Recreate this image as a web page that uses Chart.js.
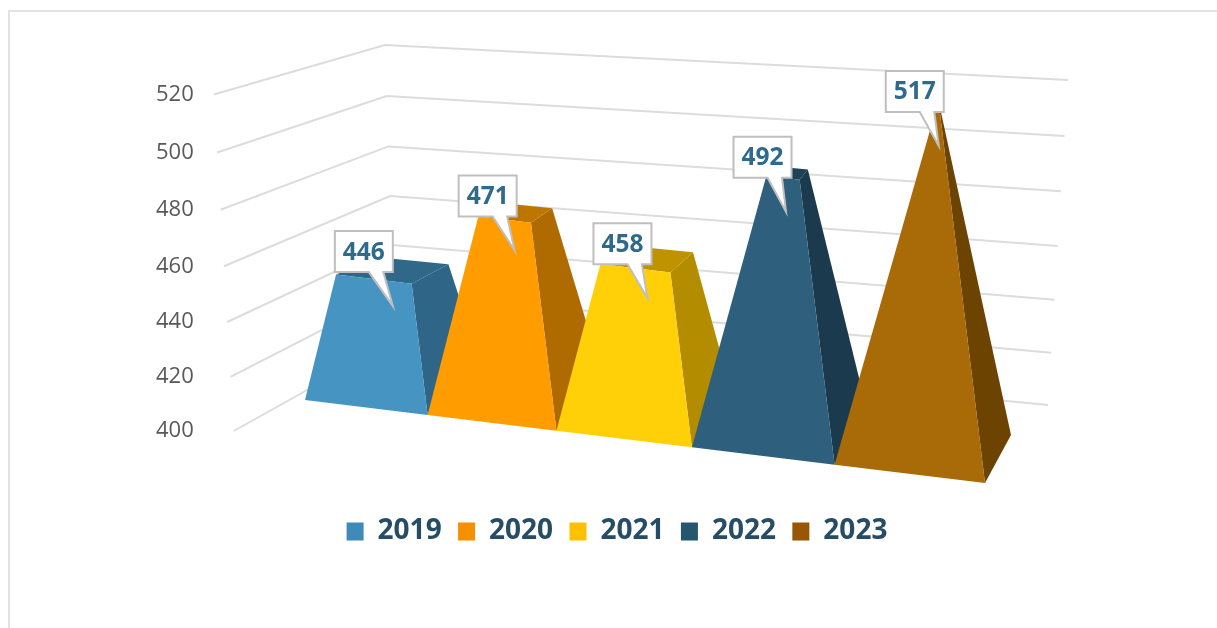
<!DOCTYPE html>
<html>
<head>
<meta charset="utf-8">
<script src="https://cdn.jsdelivr.net/npm/chart.js@4"></script>
<style>
html,body{margin:0;padding:0;background:#fff;overflow:hidden}
#frame{position:absolute;left:8px;top:10px;right:0;bottom:0;border-left:2px solid #e2e2e2;border-top:2px solid #e2e2e2}
canvas{position:absolute;left:0;top:0}
</style>
</head>
<body>
<div id="frame"></div>
<canvas id="c" width="1217" height="628"></canvas>
<script>
// ---- data ----
const years = ['2019', '2020', '2021', '2022', '2023'];
const values = [446, 471, 458, 492, 517];
const axisMin = 400;
const axisMax = 520;
const axisStep = 20;

// ---- styles ----
const legendColors = ['#3F8AB8', '#F79000', '#FFC000', '#26566E', '#985600'];
const frontColors = ['#4594C1', '#FF9C00', '#FFD008', '#2E607D', '#A96A08'];
const sideColors = ['#2F6587', '#AF6B00', '#B38C00', '#1B3A4D', '#6C4300'];
const topColors = ['#30688A', '#BD7600', '#BF9200', '#1F4257', '#6C4300'];

// ---- 3D view constants ----
const view = {
  front: [[305, 400], [985, 483]],
  back: [[372, 372], [1011, 435]],
  persp: -0.12,
  centerX: 640,
  lean: 1.45e-4,
  bow: 0.042,
  wallBack: [[395, 341], [385, 45]],
  wallRight: [[1048, 405], [1068, 80]],
  wallLeftLean: 20
};
const tipOffsets = [[19, 27], [10, 31], [12, 30], [3, 34], [1, 36]];
const tipToLeft = [58, 56, 54, 52.5, 53];

const lerp = (a, b, t) => [a[0] + (b[0] - a[0]) * t, a[1] + (b[1] - a[1]) * t];
function floorPoint(u, d) {
  const g = view.persp;
  const t = u * (1 + g) / (1 + g * u);
  return lerp(lerp(view.front[0], view.front[1], t), lerp(view.back[0], view.back[1], t), d);
}
function poly(ctx, pts, color) {
  ctx.beginPath();
  pts.forEach((p, i) => i ? ctx.lineTo(p[0], p[1]) : ctx.moveTo(p[0], p[1]));
  ctx.closePath();
  ctx.fillStyle = color;
  ctx.fill();
}
function frustum(chart, meta, value) {
  const yS = chart.scales.y, area = chart.chartArea;
  const el = meta.data[0];
  const W = area.right - area.left;
  const u0 = (el.x - el.width / 2 - area.left) / W;
  const u1 = (el.x + el.width / 2 - area.left) / W;
  const c = floorPoint((u0 + u1) / 2, 0.5);
  const span = yS.getPixelForValue(axisMin) - yS.getPixelForValue(axisMax);
  const height = span * (0.95 + (c[1] - 392) * 0.00154);
  const apex = [c[0] + (c[0] - view.centerX) * view.lean * height, c[1] - height];
  const f = (value - yS.min) / (yS.max - yS.min);
  const base = {
    fl: floorPoint(u0, 0), fr: floorPoint(u1, 0),
    br: floorPoint(u1, 1), bl: floorPoint(u0, 1)
  };
  const top = {};
  for (const k in base) top[k] = lerp(base[k], apex, f);
  return { base, top };
}

// y scale whose spacing narrows slightly toward the bottom, as in the perspective view
class DepthScale extends Chart.LinearScale {
  static id = 'depthLinear';
  static defaults = Chart.LinearScale.defaults;
  getPixelForValue(v) {
    const t = (v - this.min) / (this.max - this.min);
    return this.getPixelForDecimal(t - view.bow * t * (1 - t));
  }
}
class Frustum3D extends Chart.BarController {
  static id = 'frustum3d';
  static defaults = Chart.BarController.defaults;
  static overrides = Chart.BarController.overrides;
  draw() {
    // Chart.js calls the last dataset first; paint everything, left to right, on the final call.
    if (this.index !== 0) return;
    const chart = this.chart, ctx = chart.ctx;
    ctx.save();
    chart.data.datasets.forEach((ds, i) => {
      const g = frustum(chart, chart.getDatasetMeta(i), ds.data[0]);
      poly(ctx, [g.base.fr, g.base.br, g.top.br, g.top.fr], sideColors[i]);
      poly(ctx, [g.top.fl, g.top.fr, g.top.br, g.top.bl], topColors[i]);
      poly(ctx, [g.base.fl, g.base.fr, g.top.fr, g.top.fl], frontColors[i]);
    });
    ctx.restore();
  }
}
Chart.register(DepthScale, Frustum3D);

const walls = {
  id: 'walls',
  beforeDatasetsDraw(chart) {
    const ctx = chart.ctx, y = chart.scales.y, a = chart.chartArea;
    ctx.save();
    ctx.strokeStyle = '#DCDCDC';
    ctx.lineWidth = 2;
    y.ticks.forEach(t => {
      const py = y.getPixelForValue(t.value);
      const g = (a.bottom - py) / (a.bottom - a.top);
      const L = [a.left + (1 - g) * view.wallLeftLean, py];
      const M = lerp(view.wallBack[0], view.wallBack[1], g);
      const R = lerp(view.wallRight[0], view.wallRight[1], g);
      ctx.beginPath();
      ctx.moveTo(L[0], L[1]); ctx.lineTo(M[0], M[1]); ctx.lineTo(R[0], R[1]);
      ctx.stroke();
    });
    ctx.restore();
  }
};
const callouts = {
  id: 'callouts',
  afterDatasetsDraw(chart) {
    const ctx = chart.ctx;
    const bw = 58, bh = 41, rise = 34;
    ctx.save();
    chart.data.datasets.forEach((ds, i) => {
      const meta = chart.getDatasetMeta(i);
      const g = frustum(chart, meta, ds.data[0]);
      const m = lerp(g.top.fl, g.top.fr, 0.5);
      const tip = [m[0] + tipOffsets[i][0], m[1] + tipOffsets[i][1]];
      const bottom = tip[1] - rise, left = tip[0] - tipToLeft[i], right = left + bw, top = bottom - bh;
      const b0 = left + 34, b1 = left + 48.5;
      ctx.beginPath();
      ctx.moveTo(left, top); ctx.lineTo(right, top); ctx.lineTo(right, bottom);
      ctx.lineTo(b1, bottom); ctx.lineTo(tip[0], tip[1]); ctx.lineTo(b0, bottom);
      ctx.lineTo(left, bottom); ctx.closePath();
      ctx.fillStyle = '#FFFFFF';
      ctx.fill();
      ctx.strokeStyle = '#BFBFBF';
      ctx.lineWidth = 2;
      ctx.lineJoin = 'miter';
      ctx.stroke();
      ctx.fillStyle = '#2F6A8C';
      ctx.font = 'bold 24.5px "Open Sans"';
      ctx.textAlign = 'center';
      ctx.textBaseline = 'middle';
      ctx.fillText(String(ds.data[0]), (left + right) / 2, (top + bottom) / 2 + 1);
    });
    ctx.restore();
  }
};

new Chart(document.getElementById('c'), {
  type: 'frustum3d',
  data: {
    labels: [''],
    datasets: years.map((y, i) => ({
      label: y,
      data: [values[i]],
      backgroundColor: legendColors[i],
      borderWidth: 0,
      barPercentage: 1,
      categoryPercentage: 1,
      clip: false
    }))
  },
  options: {
    responsive: false,
    animation: false,
    layout: { padding: { left: 136, right: 119, top: 94.5, bottom: 72.6 } },
    scales: {
      x: {
        type: 'category', offset: true,
        grid: { display: false }, border: { display: false },
        ticks: { display: false },
        afterFit: s => { s.height = 70; }
      },
      y: {
        type: 'depthLinear', min: axisMin, max: axisMax,
        grid: { display: false, drawTicks: false }, border: { display: false },
        ticks: {
          stepSize: axisStep, padding: 20,
          color: '#595959', font: { family: '"Open Sans"', size: 22 }
        }
      }
    },
    plugins: {
      tooltip: { enabled: false },
      legend: {
        position: 'bottom',
        labels: {
          boxWidth: 17, boxHeight: 18, padding: 16.4,
          color: '#264D63', font: { family: '"Open Sans"', size: 28, weight: 'bold' }
        }
      }
    }
  },
  plugins: [walls, callouts]
});
</script>
</body>
</html>
